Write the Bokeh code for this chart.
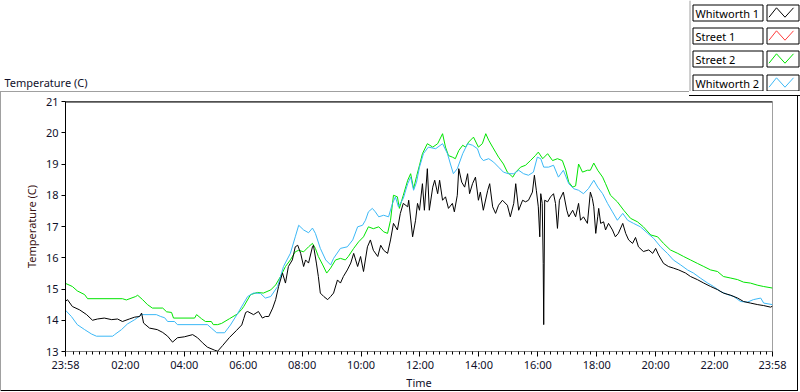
from bokeh.plotting import figure
from bokeh.layouts import column
from bokeh.models import Range1d, FixedTicker
from bokeh.core.properties import value
from bokeh.embed import file_html
from bokeh.resources import INLINE

# ---------------- data (time = minutes after 23:58 of the previous day) -------------
w1_t = [0, 4, 14, 29, 43, 55, 65, 79, 94, 106, 116, 130, 141, 151, 155, 159, 171, 187, 198, 208,
        218, 228, 242, 259, 269, 279, 289, 304, 310, 320, 334, 348, 359, 363, 367, 371, 383, 393, 401, 407,
        414, 422, 428, 434, 442, 448, 454, 462, 468, 473, 479, 485, 489, 495, 503, 505, 511, 515, 519, 526,
        534, 540, 546, 554, 560, 566, 574, 581, 587, 595, 601, 607, 615, 621, 627, 636, 642, 648, 656, 662,
        668, 676, 682, 688, 697, 699, 707, 713, 717, 721, 727, 731, 737, 741, 748, 752, 758, 762, 768, 774,
        780, 788, 792, 798, 801, 807, 813, 819, 823, 829, 835, 841, 845, 851, 860, 864, 870, 876, 882, 890,
        900, 906, 913, 917, 923, 931, 937, 943, 951, 955, 959, 963, 966, 968, 971, 973, 974, 976, 982, 988,
        994, 998, 1002, 1006, 1014, 1021, 1025, 1033, 1039, 1045, 1049, 1055, 1063, 1069, 1073, 1076, 1080, 1084, 1086, 1090,
        1096, 1100, 1106, 1114, 1120, 1126, 1135, 1141, 1147, 1155, 1161, 1167, 1177, 1188, 1196, 1202, 1208, 1218, 1228, 1238,
        1249, 1263, 1273, 1287, 1300, 1314, 1328, 1340, 1355, 1369, 1381, 1395, 1410, 1422, 1436, 1440]
w1_v = [14.60, 14.66, 14.44, 14.33, 14.18, 14.00, 14.04, 14.07, 14.02, 14.04, 13.96, 14.04, 14.10, 14.12, 14.23, 13.91, 13.75, 13.70, 13.61, 13.49,
        13.30, 13.44, 13.47, 13.54, 13.44, 13.28, 13.14, 13.04, 13.01, 13.19, 13.45, 13.67, 13.85, 14.05, 14.25, 14.28, 14.18, 14.28, 14.07, 14.12,
        14.12, 14.39, 14.66, 15.08, 15.51, 15.19, 15.72, 15.93, 16.35, 16.40, 16.14, 15.72, 15.93, 15.83, 16.35, 16.40, 15.83, 15.40, 14.87, 14.76,
        14.66, 14.76, 14.87, 15.29, 15.19, 15.40, 15.61, 15.83, 16.14, 15.72, 16.04, 15.56, 16.35, 16.57, 16.24, 16.04, 16.40, 16.24, 16.14, 16.57,
        17.10, 16.89, 17.42, 17.74, 17.63, 17.84, 16.67, 17.20, 17.74, 17.52, 18.37, 17.52, 18.85, 17.52, 18.26, 18.48, 18.05, 18.48, 17.84, 17.95,
        17.58, 17.74, 17.47, 18.00, 18.85, 18.42, 18.26, 18.69, 18.05, 18.37, 18.58, 17.84, 18.10, 17.52, 18.16, 18.37, 17.63, 17.42, 17.68, 17.84,
        17.68, 17.31, 17.74, 18.37, 17.52, 17.84, 17.79, 17.84, 18.10, 18.64, 18.16, 17.63, 16.67, 18.05, 17.74, 15.82, 13.86, 17.84, 17.79, 17.95,
        18.05, 17.74, 16.94, 17.84, 18.10, 17.52, 17.31, 17.52, 17.31, 17.74, 17.20, 17.31, 17.10, 18.10, 17.90, 17.63, 16.78, 17.31, 17.58, 17.10,
        17.15, 16.89, 17.10, 16.89, 16.67, 16.78, 17.10, 16.78, 16.57, 16.46, 16.65, 16.35, 16.20, 16.25, 16.14, 16.30, 16.09, 15.82, 15.72, 15.67,
        15.61, 15.51, 15.40, 15.30, 15.19, 15.08, 14.98, 14.87, 14.80, 14.71, 14.60, 14.55, 14.50, 14.47, 14.42, 14.45]

s2_t = [0, 14, 24, 39, 45, 116, 124, 143, 147, 157, 167, 177, 198, 206, 216, 220, 263, 267, 277, 285,
        297, 301, 310, 318, 334, 350, 359, 363, 377, 391, 403, 418, 428, 438, 448, 458, 468, 475, 485, 495,
        503, 509, 515, 524, 532, 540, 550, 560, 570, 576, 587, 597, 607, 617, 627, 638, 648, 656, 662, 668,
        676, 680, 688, 697, 703, 709, 715, 721, 727, 737, 748, 758, 768, 774, 780, 788, 794, 801, 809, 815,
        821, 831, 841, 849, 856, 862, 870, 876, 882, 892, 900, 911, 917, 927, 937, 947, 957, 963, 972, 982,
        992, 1002, 1012, 1019, 1025, 1033, 1039, 1045, 1053, 1063, 1069, 1076, 1084, 1094, 1100, 1110, 1124, 1137, 1151, 1165,
        1177, 1192, 1206, 1218, 1232, 1247, 1259, 1273, 1287, 1300, 1314, 1328, 1340, 1355, 1369, 1381, 1395, 1410, 1422, 1440]
s2_v = [15.18, 15.08, 14.94, 14.82, 14.69, 14.69, 14.65, 14.76, 14.80, 14.66, 14.50, 14.39, 14.39, 14.27, 14.25, 14.07, 14.07, 14.18, 14.05, 13.96,
        13.96, 13.86, 13.86, 13.90, 14.05, 14.20, 14.35, 14.44, 14.82, 14.89, 14.87, 14.97, 15.13, 15.40, 15.72, 15.93, 16.19, 16.24, 16.19, 16.35,
        16.46, 16.30, 16.04, 15.77, 15.51, 15.67, 15.93, 15.98, 15.93, 16.04, 16.30, 16.51, 16.67, 16.99, 16.93, 16.99, 16.83, 16.78, 17.20, 18.00,
        17.95, 17.58, 18.00, 18.48, 18.69, 18.21, 18.60, 18.96, 19.33, 19.65, 19.54, 19.65, 19.97, 19.54, 19.27, 19.22, 19.17, 19.43, 19.60, 19.54,
        19.70, 19.86, 19.54, 19.65, 19.97, 19.76, 19.54, 19.38, 19.22, 19.00, 18.74, 18.58, 18.74, 18.90, 18.96, 19.11, 19.27, 19.38, 19.17, 19.33,
        19.11, 19.17, 19.11, 18.80, 18.42, 18.26, 18.30, 19.00, 18.74, 18.80, 18.80, 19.03, 18.80, 18.58, 18.37, 18.00, 17.79, 17.52, 17.26, 17.15,
        16.99, 16.73, 16.67, 16.46, 16.25, 16.14, 16.04, 15.93, 15.82, 15.72, 15.61, 15.56, 15.40, 15.35, 15.30, 15.22, 15.19, 15.12, 15.08, 15.03]

w2_t = [0, 12, 24, 39, 53, 63, 96, 100, 114, 126, 141, 155, 185, 194, 202, 208, 222, 228, 289, 297,
        308, 324, 336, 350, 363, 371, 383, 397, 407, 418, 432, 444, 458, 468, 475, 485, 495, 503, 509, 519,
        530, 540, 546, 560, 574, 585, 595, 605, 611, 617, 625, 631, 638, 648, 658, 666, 672, 678, 688, 697,
        703, 709, 715, 721, 729, 739, 754, 768, 778, 784, 790, 798, 809, 819, 829, 839, 845, 851, 862, 872,
        882, 892, 902, 913, 923, 933, 943, 953, 961, 968, 974, 984, 994, 1004, 1014, 1025, 1035, 1045, 1055, 1065,
        1076, 1084, 1094, 1104, 1114, 1124, 1135, 1145, 1157, 1171, 1186, 1198, 1212, 1226, 1238, 1253, 1267, 1279, 1293, 1308,
        1320, 1334, 1349, 1361, 1375, 1389, 1401, 1416, 1422, 1440]
w2_v = [14.32, 14.12, 13.86, 13.70, 13.56, 13.49, 13.49, 13.54, 13.70, 13.88, 14.02, 14.18, 14.18, 14.12, 14.08, 13.96, 13.96, 13.86, 13.86, 13.75,
        13.60, 13.60, 13.85, 14.20, 14.55, 14.76, 14.87, 14.86, 14.71, 14.76, 15.08, 15.72, 16.14, 16.67, 17.04, 16.89, 16.80, 16.95, 16.78, 16.30,
        15.93, 15.77, 15.98, 16.30, 16.35, 16.57, 16.99, 17.04, 17.20, 17.47, 17.58, 17.47, 17.31, 17.36, 17.31, 17.74, 17.95, 17.63, 17.90, 18.37,
        18.58, 18.16, 18.42, 18.90, 19.33, 19.54, 19.49, 19.65, 19.33, 19.00, 18.69, 18.85, 19.33, 19.65, 19.60, 19.49, 19.22, 19.11, 19.17, 19.06,
        18.90, 18.74, 18.69, 18.69, 18.80, 18.69, 18.64, 18.74, 19.22, 19.17, 18.90, 18.90, 18.96, 18.58, 18.80, 18.37, 18.21, 18.16, 18.05, 18.21,
        18.48, 18.26, 18.05, 17.74, 17.47, 17.20, 17.42, 17.20, 17.10, 16.99, 16.78, 16.62, 16.35, 16.14, 15.93, 15.77, 15.61, 15.51, 15.35, 15.19,
        15.08, 14.92, 14.82, 14.76, 14.60, 14.58, 14.66, 14.71, 14.55, 14.50]

legend_names = ["Whitworth 1", "Street 1", "Street 2", "Whitworth 2"]
legend_colors = ["#000000", "#ff3c3c", "#00e400", "#3cb8f6"]

x_tick_values = [0, 122, 242, 362, 482, 602, 722, 842, 962, 1082, 1202, 1322, 1440]
x_tick_labels = ["23:58", "02:00", "04:00", "06:00", "08:00", "10:00", "12:00",
                 "14:00", "16:00", "18:00", "20:00", "22:00", "23:58"]
y_tick_values = [13, 14, 15, 16, 17, 18, 19, 20, 21]

FONT = "Noto Sans"
W = 800
HEAD_H = 91            # header strip (title + legend)
MAIN_H = 392 - HEAD_H  # main chart
MB = 41                # bottom border of main figure
FL = 65                # frame left  (page x)
FR = 772               # frame right (page x)
FT = 101 - HEAD_H      # frame top inside main figure (page y = 101)


def no_align(fig_):
    try:
        fig_.frame_align = False
    except Exception:
        pass


# ---------------- header: title + legend, drawn in pixel coordinates ----------------
head = figure(width=W, height=HEAD_H, output_backend="svg", toolbar_location=None, title=None,
              x_range=Range1d(0, W), y_range=Range1d(HEAD_H, 0),
              x_axis_type=None, y_axis_type=None,
              min_border=0, min_border_left=0, min_border_right=0, min_border_top=0, min_border_bottom=0)
no_align(head)
head.outline_line_color = None
head.xgrid.visible = False
head.ygrid.visible = False
head.background_fill_color = "white"
head.border_fill_color = "white"

head.text(x=[4], y=[81.5], text=["Temperature (C)"], text_font=value(FONT), text_font_size="11px",
          text_color="#10102a", text_baseline="middle", text_align="left")

# legend panel left edge
head.segment(x0=[689.5], y0=[0], x1=[689.5], y1=[HEAD_H], line_color="#a0a0a0", line_width=1)

row_tops = [4, 27, 50, 74]
tops = [t + 0.5 for t in row_tops]
bots = [t + 16.5 for t in row_tops]
head.quad(left=[692.5] * 4, right=[762.5] * 4, top=tops, bottom=bots,
          fill_color="white", line_color="black", line_width=1)
head.quad(left=[766.5] * 4, right=[798.5] * 4, top=tops, bottom=bots,
          fill_color="white", line_color="black", line_width=1)
head.text(x=[695] * 4, y=[t + 8.5 for t in row_tops], text=legend_names, text_font=value(FONT),
          text_font_size="11px", text_color="black", text_baseline="middle", text_align="left")
zig_x = [768.5, 776, 784.5, 793]
head.multi_line(xs=[zig_x] * 4,
                ys=[[t + 12.7, t + 3.3, t + 12.7, t + 3.3] for t in row_tops],
                line_color=legend_colors, line_width=1)

# ---------------- main chart ----------------
fig = figure(width=W, height=MAIN_H, output_backend="svg", toolbar_location=None, title=None,
             x_range=Range1d(0, 1440), y_range=Range1d(13, 21),
             min_border_left=FL, min_border_right=W - FR, min_border_top=FT, min_border_bottom=MB)
no_align(fig)
fig.background_fill_color = "white"
fig.border_fill_color = None          # let the panel edge lines (css) show through
fig.outline_line_color = "#a0a0a0"
fig.xgrid.visible = False
fig.ygrid.visible = False

minor = []
step = 120.0 / 9.0
i = 0
while True:
    t = 2 + i * step
    if t >= 1440:
        break
    if all(abs(t - m) > 2 for m in x_tick_values) and t > 0:
        minor.append(round(t, 2))
    i += 1

xa = fig.xaxis[0]
xa.ticker = FixedTicker(ticks=x_tick_values, minor_ticks=minor)
xa.major_label_overrides = {v: l for v, l in zip(x_tick_values, x_tick_labels)}
xa.axis_label = "Time"
xa.axis_line_color = "#808080"
xa.major_tick_out = 5
xa.major_tick_in = 0
xa.minor_tick_out = 3
xa.minor_tick_in = 0
xa.major_tick_line_color = "black"
xa.minor_tick_line_color = "black"
xa.major_label_standoff = 0
xa.axis_label_standoff = 0
xa.major_label_text_color = "#10102a"
xa.axis_label_text_color = "#10102a"

ya = fig.yaxis[0]
ya.ticker = FixedTicker(ticks=y_tick_values, minor_ticks=[])
ya.axis_label = "Temperature (C)"
ya.axis_line_color = "black"
ya.major_tick_out = 4
ya.major_tick_in = 0
ya.minor_tick_out = 0
ya.minor_tick_in = 0
ya.major_tick_line_color = "black"
ya.major_label_standoff = 3
ya.axis_label_standoff = 4
ya.major_label_text_color = "#10102a"
ya.axis_label_text_color = "#3a1212"

for ax in (xa, ya):
    ax.major_label_text_font = FONT
    ax.major_label_text_font_size = "11px"
    ax.axis_label_text_font = FONT
    ax.axis_label_text_font_size = "11px"
    ax.axis_label_text_font_style = "normal"

# black top edge of the plot area
fig.line([0, 1440], [21, 21], line_color="black", line_width=2)

# data lines
fig.line(s2_t, s2_v, line_color=legend_colors[2], line_width=1)
fig.line(w2_t, w2_v, line_color=legend_colors[3], line_width=1)
fig.line(w1_t, w1_v, line_color=legend_colors[0], line_width=1)

# outer panel edges (LabVIEW style), painted behind the transparent figure border
edges = ", ".join([
    "linear-gradient(#a0a0a0,#a0a0a0) 0px 91px / 689px 1px no-repeat",
    "linear-gradient(#000,#000) 689px 95px / 111px 1px no-repeat",
    "linear-gradient(#a0a0a0,#a0a0a0) 0px 91px / 1px 300px no-repeat",
    "linear-gradient(#000,#000) 797px 95px / 1px 296px no-repeat",
    "linear-gradient(#000,#000) 0px 390px / 798px 1px no-repeat",
    "#ffffff",
])

p = column(head, fig, styles={"background": edges})
open("out.html", "w").write(file_html(p, INLINE))
